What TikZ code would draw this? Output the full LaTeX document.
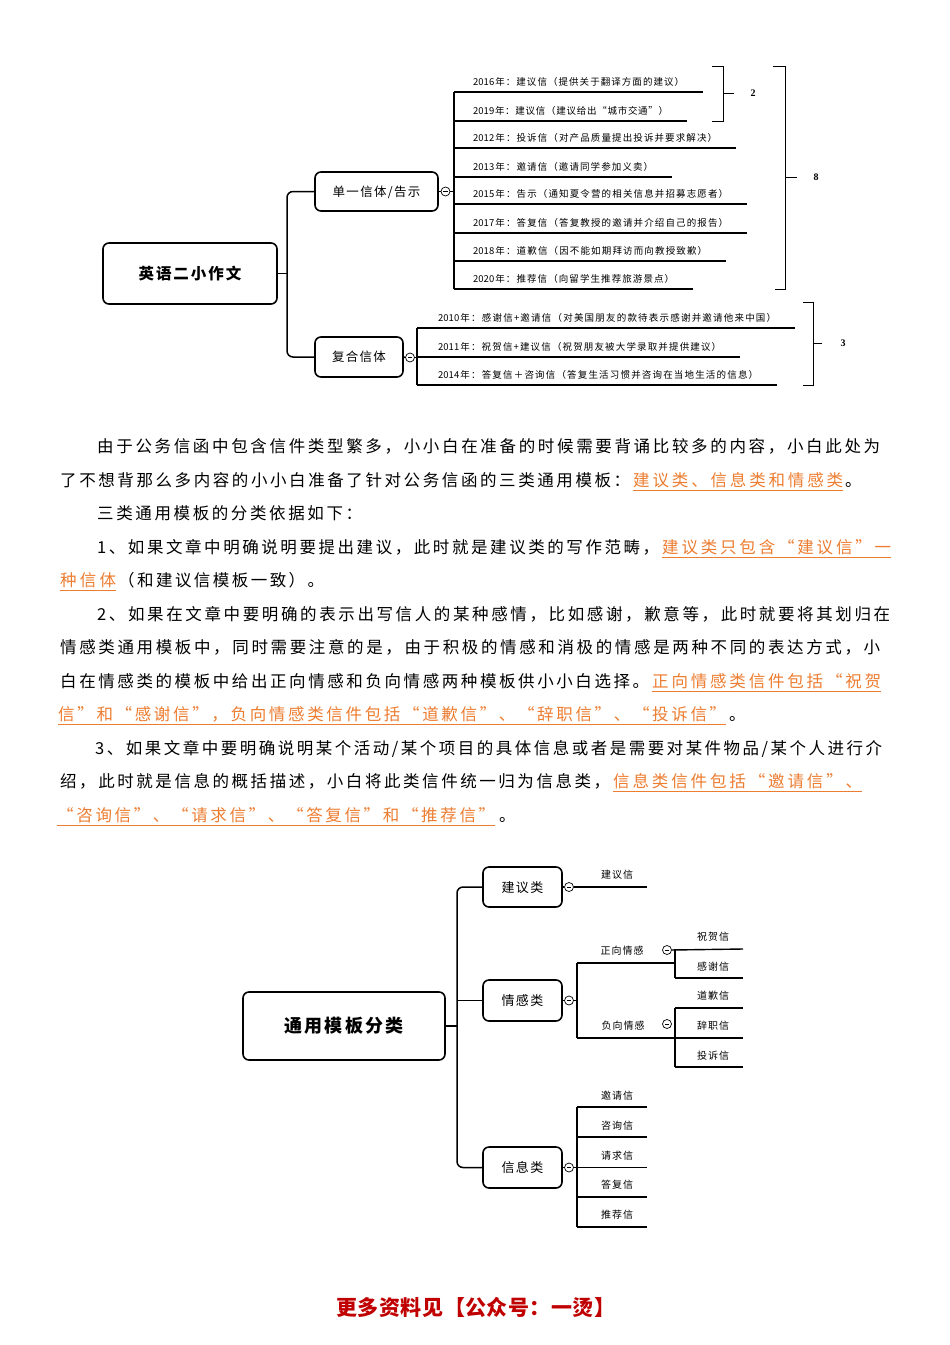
\documentclass[tikz,border=0pt]{standalone}
\usepackage{fontspec}
\setmainfont{Noto Sans CJK SC}
\newfontfamily\serifnum{Liberation Serif}
\usetikzlibrary{calc}
\definecolor{orng}{RGB}{237,125,49}
\definecolor{fred}{RGB}{192,0,0}
\newskip\cjkglue \cjkglue=3pt plus 1fil\relax
\def\cg#1{\cjkglue=#1pt plus 1fil\relax}
\def\sp#1{\spfirst#1\relax}
\def\spfirst#1{\ifx\relax#1\else#1\expandafter\sprest\fi}
\def\sprest#1{\ifx\relax#1\else\hskip\cjkglue#1\expandafter\sprest\fi}
\begin{document}
\begin{tikzpicture}[x=1pt,y=-1pt,
  para/.style={anchor=base west, inner sep=0pt, font=\fontsize{16.5}{18}\selectfont\cg{1}},
  opara/.style={para, text=orng},
  uline/.style={draw=orng, line width=1pt},
  box/.style={draw, line width=1.6pt, rounded corners=6pt, inner sep=0pt, align=center},
  conn/.style={line width=1.5pt, rounded corners=6pt},
  iline/.style={line width=1.4pt},
  brk/.style={line width=1pt},
  lbl/.style={inner sep=0pt, font=\serifnum\bfseries\fontsize{10}{12}\selectfont},
  item/.style={anchor=base west, inner sep=0pt, font=\fontsize{9.5}{11}\selectfont},
  leaf/.style={anchor=base, inner sep=0pt, font=\fontsize{10}{12}\selectfont\cg{1}},
  knob/.style={circle, draw, line width=0.7pt, minimum size=9pt, inner sep=0pt, fill=white,
    path picture={\draw[line width=0.5pt] ([xshift=-2.2pt]path picture bounding box.center) -- ([xshift=2.2pt]path picture bounding box.center);}},
]
\useasboundingbox[fill=white] (0,0) rectangle (950,1345);

% ---------------- top mind map ----------------
\node[box, minimum width=174pt, minimum height=61pt, text height=13.6pt, text depth=1.9pt,
  font=\fontsize{15.5}{17}\selectfont\bfseries\cg{2}] (r1) at (190,273.5) {\sp{英语二小作文}};
\node[box, minimum width=123pt, minimum height=39pt, text height=11pt, text depth=1.5pt,
  font=\fontsize{12.5}{14}\selectfont\cg{1.3}] (s1) at (376.5,191.5) {\sp{单一信体/告示}};
\node[box, minimum width=88pt, minimum height=40pt, text height=11pt, text depth=1.5pt,
  font=\fontsize{12.5}{14}\selectfont\cg{1.3}] (s2) at (359,357) {\sp{复合信体}};
\coordinate (jt) at (287,273.5);
\draw[conn] (r1.east) -- (jt);
\draw[conn] (s1.west) -- (jt |- s1.west) -- (jt |- s2.west) -- (s2.west);

\node[knob] (k1) at (445.5,191.5) {};
\node[knob] (k2) at (410,357.5) {};
\draw[conn] (s1.east) -- (k1.west);
\draw[conn] (s2.east) -- (k2.west);

\begingroup\cg{0}
\node[item] (i1) at (473,85)  {\hbox to 211pt{\sp{{2016}年：建议信（提供关于翻译方面的建议）}}};
\node[item] (i2) at (473,114) {\hbox to 195pt{\sp{{2019}年：建议信（建议给出“城市交通”）}}};
\node[item] (i3) at (473,141) {\hbox to 244pt{\sp{{2012}年：投诉信（对产品质量提出投诉并要求解决）}}};
\node[item] (i4) at (473,170) {\hbox to 180pt{\sp{{2013}年：邀请信（邀请同学参加义卖）}}};
\node[item] (i5) at (473,197) {\hbox to 255pt{\sp{{2015}年：告示（通知夏令营的相关信息并招募志愿者）}}};
\node[item] (i6) at (473,226) {\hbox to 255pt{\sp{{2017}年：答复信（答复教授的邀请并介绍自己的报告）}}};
\node[item] (i7) at (473,254) {\hbox to 234pt{\sp{{2018}年：道歉信（因不能如期拜访而向教授致歉）}}};
\node[item] (i8) at (473,282) {\hbox to 201pt{\sp{{2020}年：推荐信（向留学生推荐旅游景点）}}};
\node[item] (j1) at (438,321) {\hbox to 338pt{\sp{{2010}年：感谢信+邀请信（对美国朋友的款待表示感谢并邀请他来中国）}}};
\node[item] (j2) at (438,350) {\hbox to 283pt{\sp{{2011}年：祝贺信+建议信（祝贺朋友被大学录取并提供建议）}}};
\node[item] (j3) at (438,378) {\hbox to 320pt{\sp{{2014}年：答复信＋咨询信（答复生活习惯并咨询在当地生活的信息）}}};
\endgroup

\foreach \nn in {i1,i2,i3,i4,i5,i6,i7,i8}
  \draw[iline] ([xshift=-19pt,yshift=-7pt]\nn.base west) -- ([xshift=19pt,yshift=-7pt]\nn.base east);
\draw[iline] ([xshift=-19pt,yshift=-7pt]i1.base west) -- ([xshift=-19pt,yshift=-7pt]i8.base west);
\draw[iline] (k1.east) -- ([xshift=-19pt]i1.base west |- k1.east);
\foreach \nn in {j1,j2,j3}
  \draw[iline] ([xshift=-21pt,yshift=-7pt]\nn.base west) -- ([xshift=19pt,yshift=-7pt]\nn.base east);
\draw[iline] ([xshift=-21pt,yshift=-7pt]j1.base west) -- ([xshift=-21pt,yshift=-7pt]j3.base west);
\draw[iline] (k2.east) -- ([xshift=-21pt]j1.base west |- k2.east);

% brackets
\draw[brk] (712,66) -- (723,66) -- (723,121) -- (712,121);
\draw[brk] (723,93.5) -- (734,93.5);
\node[lbl] (n2) at (753,93.5) {2};
\draw[brk] (773,66) -- (785,66) -- (785,289) -- (775,289);
\draw[brk] (785,177) -- (797,177);
\node[lbl] (n8) at (816,177) {8};
\draw[brk] (803,302) -- (813,302) -- (813,385) -- (803,385);
\draw[brk] (813,343) -- (822,343);
\node[lbl] (n3) at (843,343) {3};

% ---------------- paragraph ----------------
\node[para] (p1) at (97,452) {\hbox to 783pt{\sp{由于公务信函中包含信件类型繁多，小小白在准备的时候需要背诵比较多的内容，小白此处为}}};
\node[para] (p2a) at (60,486) {\hbox to 570pt{\sp{了不想背那么多内容的小小白准备了针对公务信函的三类通用模板：}}};
\node[opara] (p2b) at (633,486) {\hbox to 210pt{\sp{建议类、信息类和情感类}}};
\node[para] (p2c) at (845,486) {。};
\node[para] (p3) at (97,519) {\hbox to 265pt{\sp{三类通用模板的分类依据如下：}}};
\node[para] (p4a) at (97,553) {\hbox to 562pt{\sp{1、如果文章中明确说明要提出建议，此时就是建议类的写作范畴，}}};
\node[opara] (p4b) at (662,553) {\hbox to 229pt{\sp{建议类只包含“建议信”一}}};
\node[opara] (p5a) at (60,586) {\hbox to 56pt{\sp{种信体}}};
\node[para] (p5b) at (118,586) {\hbox to 206pt{\sp{（和建议信模板一致）。}}};
\node[para] (p6) at (97,620) {\hbox to 793pt{\sp{2、如果在文章中要明确的表示出写信人的某种感情，比如感谢，歉意等，此时就要将其划归在}}};
\node[para] (p7) at (60,653) {\hbox to 820pt{\sp{情感类通用模板中，同时需要注意的是，由于积极的情感和消极的情感是两种不同的表达方式，小}}};
\node[para] (p8a) at (60,687) {\hbox to 589pt{\sp{白在情感类的模板中给出正向情感和负向情感两种模板供小小白选择。}}};
\node[opara] (p8b) at (652,687) {\hbox to 229pt{\sp{正向情感类信件包括“祝贺}}};
\node[opara] (p9a) at (58,720) {\hbox to 668pt{\sp{信”和“感谢信”，负向情感类信件包括“道歉信”、“辞职信”、“投诉信”}}};
\node[para] (p9b) at (729,720) {。};
\node[para] (p10) at (95,754) {\hbox to 787pt{\sp{3、如果文章中要明确说明某个活动/某个项目的具体信息或者是需要对某件物品/某个人进行介}}};
\node[para] (p11a) at (60,787) {\hbox to 550pt{\sp{绍，此时就是信息的概括描述，小白将此类信件统一归为信息类，}}};
\node[opara] (p11b) at (613,787) {\hbox to 249pt{\sp{信息类信件包括“邀请信”、}}};
\node[opara] (p12a) at (57,821) {\hbox to 438pt{\sp{“咨询信”、“请求信”、“答复信”和“推荐信”}}};
\node[para] (p12b) at (499,821) {。};
\foreach \nn in {p2b,p4b,p5a,p8b,p9a,p11b,p12a}
  \draw[uline] ([yshift=-4pt]\nn.base west) -- ([yshift=-4pt]\nn.base east);

% ---------------- bottom mind map ----------------
\node[box, minimum width=202pt, minimum height=68pt, text height=15.8pt, text depth=2.2pt,
  font=\fontsize{18}{20}\selectfont\bfseries\cg{2.3}] (r2) at (344,1026) {\sp{通用模板分类}};
\node[box, minimum width=79pt, minimum height=40pt, text height=11.6pt, text depth=1.6pt,
  font=\fontsize{13}{15}\selectfont\cg{1.5}] (b1) at (522.5,887) {\sp{建议类}};
\node[box, minimum width=79pt, minimum height=41pt, text height=11.6pt, text depth=1.6pt,
  font=\fontsize{13}{15}\selectfont\cg{1.5}] (b2) at (522.5,1000.5) {\sp{情感类}};
\node[box, minimum width=79pt, minimum height=41pt, text height=11.6pt, text depth=1.6pt,
  font=\fontsize{13}{15}\selectfont\cg{1.5}] (b3) at (522.5,1167.5) {\sp{信息类}};
\coordinate (jb) at (457,1026);
\draw[conn] (r2.east) -- (jb);
\draw[conn] (b1.west) -- (jb |- b1.west) -- (jb |- b3.west) -- (b3.west);
\draw[conn] (b2.west) -- (jb |- b2.west);

\node[knob] (kb1) at (569,887) {};
\node[knob] (kb2) at (569,1000.5) {};
\node[knob] (kb3) at (569,1167.5) {};
\draw[conn] (b1.east) -- (kb1.west);
\draw[conn] (b2.east) -- (kb2.west);
\draw[conn] (b3.east) -- (kb3.west);

% 建议类
\node[leaf] (l1) at (617,878.7) {\sp{建议信}};
\coordinate (e1) at (647,887);
\draw[iline] (kb1.east) -- (e1);

% 情感类
\coordinate (q1) at (577,963);
\coordinate (q2) at (577,1038);
\draw[iline] (kb2.east) -- (kb2.east -| q1);
\draw[iline] (q1) -- (q2);
\node[leaf] (zx) at (622,954.7) {\sp{正向情感}};
\node[leaf] (fx) at (623,1029.7) {\sp{负向情感}};
\node[knob] (kz) at (667,950) {};
\node[knob] (kf) at (667,1024) {};
\coordinate (z1) at (675,949);
\coordinate (z2) at (675,978);
\coordinate (f1) at (675,1008);
\coordinate (f3) at (675,1067);
\draw[iline] (q1) -- (q1 -| z1);
\draw[iline] (z1) -- (z2);
\draw[iline] (kz.east) -- (743,949);
\draw[iline] (z2) -- (743,978);
\draw[iline] (q2) -- (743,1038);
\draw[iline] (f1) -- (f3);
\draw[iline] (f1) -- (743,1008);
\draw[iline] (f3) -- (743,1067);
\node[leaf] (g1) at (713,940.7) {\sp{祝贺信}};
\node[leaf] (g2) at (713,970.7) {\sp{感谢信}};
\node[leaf] (g3) at (713,999.7) {\sp{道歉信}};
\node[leaf] (g4) at (713,1029.7) {\sp{辞职信}};
\node[leaf] (g5) at (713,1059.7) {\sp{投诉信}};

% 信息类
\coordinate (x1) at (577,1107);
\coordinate (x5) at (577,1227);
\draw[iline] (x1) -- (x5);
\draw[iline] (kb3.east) -- (kb3.east -| x1);
\foreach \yy in {1107,1137,1167.5,1197,1227}
  \draw[iline] (577,\yy) -- (647,\yy);
\node[leaf] (h1) at (617,1099.7) {\sp{邀请信}};
\node[leaf] (h2) at (617,1129.7) {\sp{咨询信}};
\node[leaf] (h3) at (617,1159.7) {\sp{请求信}};
\node[leaf] (h4) at (617,1188.7) {\sp{答复信}};
\node[leaf] (h5) at (617,1218.7) {\sp{推荐信}};

% footer
\node[inner sep=0pt, text=fred, font=\fontsize{21}{24}\selectfont\bfseries\cg{0.5}] (ft) at (476,1307) {\sp{更多资料见【公众号：一烫】}};
\end{tikzpicture}
\end{document}
